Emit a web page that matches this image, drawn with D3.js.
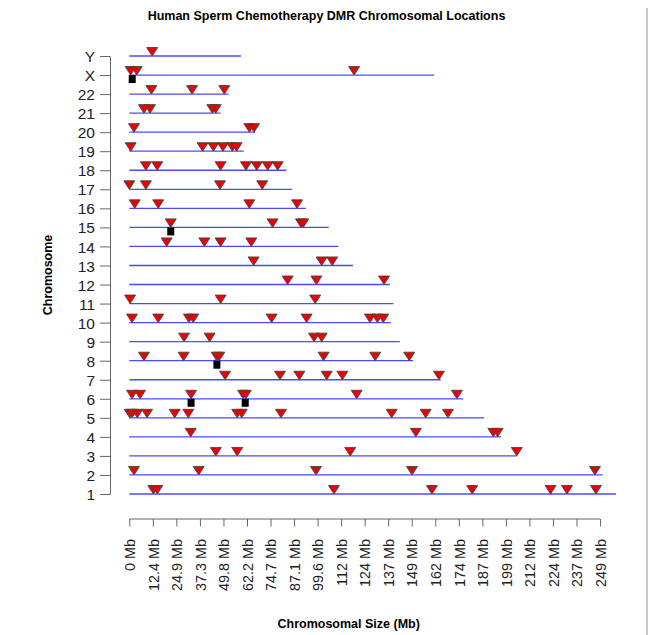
<!DOCTYPE html>
<head>
  <meta charset="utf-8">
  <style>
  body{
    margin:0;
    background:white;
    font-family: "Liberation Sans", Arial, sans-serif;
  }
  .title, .axis-title{
    font-weight:bold;
    font-size:12.5px;
  }
  .tick text{
    font-family: "Liberation Sans", Arial, sans-serif;
    font-size:14.4px;
    fill:#222;
  }
  .yaxis .tick text{
    font-size:15.5px;
  }
  .tick line, .domain{
    stroke:#666;
  }
  </style>
</head>
<body>
  <svg width="649" height="635"></svg>
  <script src="https://cdnjs.cloudflare.com/ajax/libs/d3/7.8.5/d3.min.js"></script>
  <script>

  // chromosomes bottom to top, lengths in Mb
  var chromosomes = ["1","2","3","4","5","6","7","8","9","10","11","12","13","14","15","16","17","18","19","20","21","22","X","Y"];
  var chromLengths = [248.96,242.19,198.3,190.2,181.5,170.8,159.3,145.1,138.4,133.8,135.1,133.3,114.4,107.0,102.0,90.3,83.3,80.4,58.6,64.4,46.7,50.8,156.0,57.2];

  // DMR locations (Mb) per chromosome, same order as above
  var dmrPositions = [
    [12.3,14.3,104.7,154.8,175.4,215.5,223.9,238.7],
    [2.4,35.5,95.5,144.6,238.2],
    [44.3,55.2,113.0,198.2],
    [31.4,146.6,186.2,188.4],
    [0.2,1.4,4.1,9.1,23.2,30.2,55.2,57.5,77.6,134.2,151.6,163.0],
    [1.4,5.5,31.6,58.2,59.6,116.3,167.6],
    [49.0,77.1,87.0,101.0,109.0,158.4],
    [7.5,27.8,44.7,46.0,99.4,125.8,143.2],
    [28.0,41.1,94.5,98.4],
    [1.4,14.8,30.5,32.7,72.8,90.7,123.1,126.9,129.9],
    [0.4,46.7,95.1],
    [81.0,95.7,130.3],
    [63.6,98.4,103.8],
    [19.1,38.4,46.7,62.4],
    [21.2,73.3,87.8,89.0],
    [2.8,14.8,61.4,85.8],
    [0.0,8.5,46.4,68.0],
    [8.5,14.3,46.7,59.7,65.2,70.8,75.9],
    [0.7,37.5,43.0,47.9,52.7,54.9],
    [2.4,61.4,63.8],
    [7.5,10.6,42.5,44.2],
    [11.3,32.1,48.6],
    [0.7,3.8,115.0],
    [11.7]
  ];

  // black square marks
  var squareChrom = ["X","15","8","6","6"];
  var squarePos = [1.5,21.2,44.8,31.6,59.3];

  var tickLabels = ["0 Mb","12.4 Mb","24.9 Mb","37.3 Mb","49.8 Mb","62.2 Mb","74.7 Mb","87.1 Mb","99.6 Mb","112 Mb","124 Mb","137 Mb","149 Mb","162 Mb","174 Mb","187 Mb","199 Mb","212 Mb","224 Mb","237 Mb","249 Mb"];
  var axisEnd = 240.8;

  var svg = d3.select("svg");

  var x = d3.scaleLinear().domain([0, 248.96]).range([129.3, 616]);
  var y = d3.scalePoint().domain(chromosomes).range([494, 56]);

  // faint page edge on the right
  svg.append("line")
      .attr("x1", 647).attr("x2", 647).attr("y1", 8).attr("y2", 635)
      .style("stroke", "#c8c8c8").style("stroke-width", 2);

  svg.append("text")
      .attr("class", "title")
      .attr("x", 326.5).attr("y", 20)
      .attr("text-anchor", "middle")
      .text("Human Sperm Chemotherapy DMR Chromosomal Locations");

  // y axis
  svg.append("g")
      .attr("class", "yaxis")
      .attr("transform", "translate(110,0)")
      .call(d3.axisLeft(y).tickSize(10).tickPadding(5).tickSizeOuter(0))
      .selectAll(".tick text").attr("dy", "0.36em");

  // x axis
  var tickVals = tickLabels.map(function(d, i) { return axisEnd * i / 20; });
  var xAxis = svg.append("g")
      .attr("transform", "translate(0,519)")
      .call(d3.axisBottom(x).tickValues(tickVals).tickSize(7.5).tickSizeOuter(0)
        .tickFormat(function(d, i) { return tickLabels[i]; }));
  xAxis.select(".domain").attr("d", "M" + x(0) + ",0H" + x(axisEnd));
  xAxis.selectAll(".tick text")
      .attr("transform", "rotate(-90)")
      .attr("text-anchor", "end")
      .attr("x", -20).attr("y", 0)
      .attr("dy", "0.36em");

  svg.append("text")
      .attr("class", "axis-title")
      .attr("x", 348.7).attr("y", 628)
      .attr("text-anchor", "middle")
      .text("Chromosomal Size (Mb)");

  svg.append("text")
      .attr("class", "axis-title")
      .attr("transform", "translate(52,275) rotate(-90)")
      .attr("text-anchor", "middle")
      .text("Chromosome");

  // chromosome lines
  svg.selectAll(".chrom")
    .data(chromosomes)
    .enter().append("line")
      .attr("class", "chrom")
      .attr("x1", x(0))
      .attr("x2", function(d, i) { return x(chromLengths[i]); })
      .attr("y1", function(d) { return y(d); })
      .attr("y2", function(d) { return y(d); })
      .style("stroke", "#4a4aff")
      .style("stroke-width", 1.3);

  // squares
  svg.selectAll(".sq")
    .data(squarePos)
    .enter().append("rect")
      .attr("class", "sq")
      .attr("x", function(d) { return x(d) - 3.5; })
      .attr("y", function(d, i) { return y(squareChrom[i]); })
      .attr("width", 7).attr("height", 8)
      .style("fill", "black");

  // DMR triangles
  var marks = [];
  chromosomes.forEach(function(c, i) {
    dmrPositions[i].forEach(function(p) { marks.push({chrom: c, pos: p}); });
  });

  svg.selectAll(".dmr")
    .data(marks)
    .enter().append("path")
      .attr("class", "dmr")
      .attr("d", "M-5.5,-8.5L5.5,-8.5L0,0Z")
      .attr("transform", function(d) { return "translate(" + x(d.pos) + "," + y(d.chrom) + ")"; })
      .style("fill", "#ee0000")
      .style("stroke", "#444")
      .style("stroke-width", 0.9);

  </script>
</body>
